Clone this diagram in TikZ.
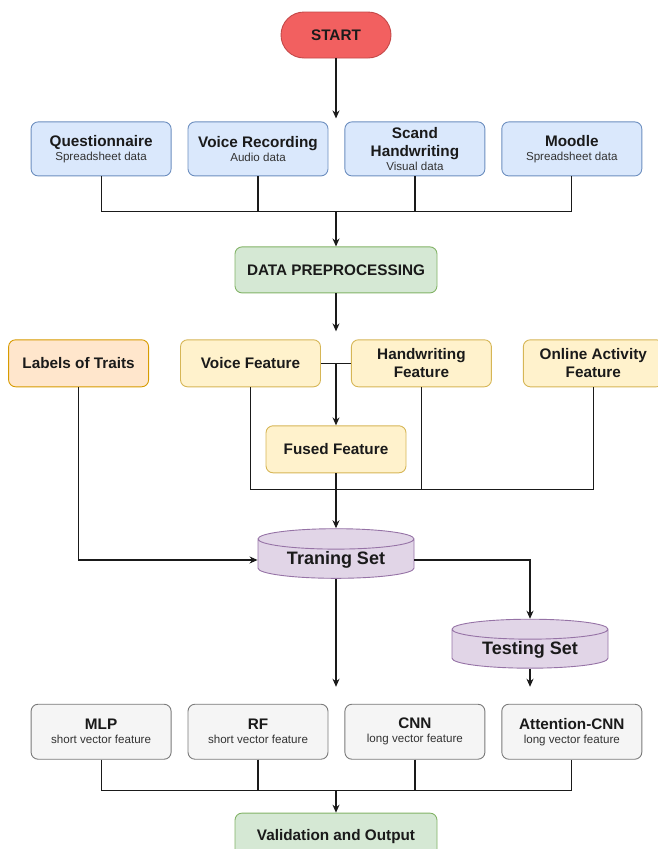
\documentclass[tikz,border=0pt]{standalone}
\usepackage{fontspec}
\setmainfont{Liberation Sans}
\usepackage{tikz}
\usetikzlibrary{arrows.meta,positioning,shapes.geometric}

\definecolor{ink}{HTML}{1A1A1A}
\definecolor{subgray}{HTML}{333333}
\definecolor{redF}{RGB}{242,96,96}
\definecolor{redD}{RGB}{196,72,72}
\definecolor{blueF}{HTML}{DAE8FC}
\definecolor{blueD}{HTML}{6C8EBF}
\definecolor{greenF}{HTML}{D5E8D4}
\definecolor{greenD}{HTML}{82B366}
\definecolor{orangeF}{HTML}{FFE6CC}
\definecolor{orangeD}{HTML}{D79B00}
\definecolor{yellowF}{HTML}{FFF2CC}
\definecolor{yellowD}{HTML}{D6B656}
\definecolor{purpleF}{HTML}{E1D5E7}
\definecolor{purpleD}{HTML}{9673A6}
\definecolor{grayF}{HTML}{F5F5F5}
\definecolor{grayD}{HTML}{7A7A7A}

\newcommand{\subtxt}[1]{{\fontsize{11.6}{14}\selectfont\mdseries\color{subgray}#1}}

\begin{document}
\begin{tikzpicture}[
  x=1pt, y=1pt,
  base/.style={draw, rounded corners=7pt, align=center, inner sep=2pt, line width=0.9pt, text=ink, font=\fontsize{15.3}{18}\selectfont\bfseries},
  startnode/.style={base, rounded corners=23pt, fill=redF, draw=redD, minimum width=110pt, minimum height=46pt},
  srcbox/.style={base, fill=blueF, draw=blueD, minimum width=140pt, minimum height=54pt},
  stage/.style={base, fill=greenF, draw=greenD, minimum width=202pt, minimum height=46pt},
  feat/.style={base, fill=yellowF, draw=yellowD, minimum width=140pt, minimum height=47pt},
  traitbox/.style={base, fill=orangeF, draw=orangeD, minimum width=140pt, minimum height=47pt},
  dbnode/.style={base, rounded corners=0pt, shape=cylinder, shape border rotate=90, aspect=0.2, fill=purpleF, draw=purpleD, minimum width=156pt, minimum height=46pt, font=\fontsize{18}{20}\selectfont\bfseries},
  model/.style={base, fill=grayF, draw=grayD, minimum width=140pt, minimum height=55pt},
  line/.style={line width=1.2pt, draw=ink},
  arrow/.style={line, -{Stealth[length=8pt, width=7pt]}}
]
\useasboundingbox (0,0) rectangle (658,-849);

% sources
\node[startnode] (start) at (336,-35) {START};
\coordinate[below=60pt of start] (startend);
\node[srcbox, below=63pt of start, xshift=-78pt] (voice) {Voice Recording\\[-4pt]\subtxt{Audio data}};
\node[srcbox, left=16pt of voice] (quest) {Questionnaire\\[-4pt]\subtxt{Spreadsheet data}};
\node[srcbox, right=16pt of voice] (scan) {Scand\\Handwriting\\[-4pt]\subtxt{Visual data}};
\node[srcbox, right=16pt of scan] (moodle) {Moodle\\[-4pt]\subtxt{Spreadsheet data}};
\coordinate[below=35pt of voice] (srcbus);
\node[stage, below=188pt of start] (prep) {DATA PREPROCESSING};
\coordinate[below=38pt of prep] (prepend);

% features
\node[feat, below=46pt of prep, xshift=-85.5pt] (vfeat) {Voice Feature};
\node[feat, right=30pt of vfeat] (hfeat) {Handwriting\\Feature};
\node[traitbox, left=31pt of vfeat] (traits) {Labels of Traits};
\node[feat, right=31pt of hfeat] (online) {Online Activity\\Feature};
\node[feat, below=132pt of prep] (fused) {Fused Feature};
\coordinate[below=16pt of fused] (featbus);

% data sets
\node[dbnode, below=55pt of fused] (train) {Traning Set};
\node[dbnode, below=40pt of train, xshift=194pt] (test) {Testing Set};
\coordinate[below=108pt of train] (trainend);

% models
\node[model, below=125pt of train, xshift=-78pt] (rf) {RF\\[-4pt]\subtxt{short vector feature}};
\node[model, left=16pt of rf] (mlp) {MLP\\[-4pt]\subtxt{short vector feature}};
\node[model, right=16pt of rf] (cnn) {CNN\\[-4pt]\subtxt{long vector feature}};
\node[model, right=16pt of cnn] (attn) {Attention-CNN\\[-4pt]\subtxt{long vector feature}};
\coordinate[below=31pt of rf] (modelbus);
\node[stage, below=53pt of rf, xshift=78pt] (valid) {Validation and Output};

\draw[arrow] (start) -- (startend);
\draw[line] (quest) |- (moodle |- srcbus) -- (moodle);
\draw[line] (voice) -- (voice |- srcbus);
\draw[line] (scan) -- (scan |- srcbus);
\draw[arrow] (start |- srcbus) -- (prep);
\draw[arrow] (prep) -- (prepend);

\draw[line] (vfeat) -- (hfeat);
\draw[arrow] (start |- vfeat) -- (fused);
\draw[line] (vfeat) |- (online |- featbus) -- (online);
\draw[line] (hfeat) -- (hfeat |- featbus);
\draw[arrow] (fused) -- (train);
\draw[arrow] (traits) |- (train);

\draw[arrow] (train) -| (test);
\draw[arrow] (train) -- (trainend);
\draw[arrow] (test) -- (test |- trainend);

\draw[line] (mlp) |- (attn |- modelbus) -- (attn);
\draw[line] (rf) -- (rf |- modelbus);
\draw[line] (cnn) -- (cnn |- modelbus);
\draw[arrow] (valid |- modelbus) -- (valid);
\end{tikzpicture}
\end{document}
